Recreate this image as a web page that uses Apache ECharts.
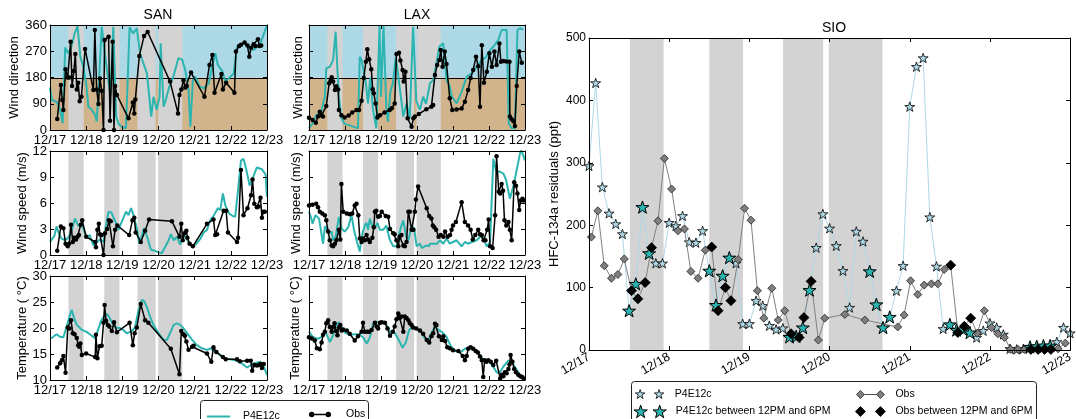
<!DOCTYPE html>
<html>
<head>
<meta charset="utf-8">
<script src="https://cdn.jsdelivr.net/npm/echarts@6/dist/echarts.min.js"></script>
<style>
html, body { margin: 0; padding: 0; background: #fff; }
#chart { width: 1076px; height: 419px; }
</style>
</head>
<body>
<div id="chart"></div>
<script>
// ---- axis labels and shaded periods (days after 12/17 00:00) ----
const dayLabels = ['12/17', '12/18', '12/19', '12/20', '12/21', '12/22', '12/23'];
const bands = [[0.51, 0.93], [1.50, 1.92], [2.42, 2.92], [2.99, 3.66]];
const dirZones = [[0, 180], [180, 360]];
const dirDivide = [[180]];

// ---- SAN / LAX wind direction (deg): [day, value] ----
const sanDirModel = [[0,146],[0.05,103],[0.1,100],[0.18,97],[0.27,75],[0.35,23],[0.42,283],[0.5,263],[0.58,280],[0.68,330],[0.76,357],[0.84,250],[0.92,217],[1.0,160],[1.06,80],[1.15,70],[1.25,51],[1.29,29],[1.36,180],[1.43,354],[1.5,280],[1.58,200],[1.67,120],[1.75,354],[1.83,46],[1.9,20],[1.98,11],[2.1,6],[2.2,352],[2.3,331],[2.4,349],[2.49,263],[2.58,229],[2.68,194],[2.8,46],[2.86,114],[2.95,69],[3.03,114],[3.06,297],[3.14,80],[3.2,103],[3.3,149],[3.41,183],[3.55,246],[3.65,242],[3.74,206],[3.83,137],[3.88,11],[3.95,170],[4.02,183],[4.14,149],[4.25,143],[4.39,160],[4.48,217],[4.57,263],[4.64,223],[4.76,203],[4.85,166],[4.99,183],[5.08,194],[5.17,286],[5.35,297],[5.49,286],[5.63,274],[5.82,297],[6.0,360]];
const sanDirObs = [[0.2,38],[0.3,154],[0.34,103],[0.37,69],[0.43,208],[0.49,180],[0.53,180],[0.57,303],[0.61,151],[0.66,202],[0.70,261],[0.74,139],[0.78,162],[0.82,99],[0.87,114],[0.97,278],[1.2,137],[1.24,343],[1.29,139],[1.34,89],[1.38,177],[1.43,135],[1.48,0],[1.51,309],[1.62,320],[1.66,32],[1.73,303],[1.77,0],[1.8,151],[1.85,120],[2.17,40],[2.29,94],[2.33,57],[2.36,105],[2.47,254],[2.6,322],[2.7,336],[3.32,166],[3.54,57],[3.58,120],[3.63,139],[3.69,171],[3.74,146],[3.78,151],[3.9,197],[4.27,114],[4.41,223],[4.49,257],[4.55,128],[4.74,192],[4.78,139],[4.87,162],[5.1,128],[5.14,269],[5.23,288],[5.28,292],[5.38,300],[5.46,290],[5.51,251],[5.56,282],[5.63,294],[5.68,288],[5.75,311],[5.79,288],[5.84,290]];
const laxDirModel = [[0,6],[0.1,23],[0.2,50],[0.34,63],[0.44,114],[0.48,211],[0.58,217],[0.67,240],[0.74,337],[0.78,230],[0.83,114],[0.9,40],[0.99,21],[1.15,15],[1.36,6],[1.41,251],[1.46,240],[1.58,160],[1.64,91],[1.7,180],[1.78,69],[1.87,6],[1.96,357],[2.0,114],[2.07,357],[2.15,69],[2.19,29],[2.26,130],[2.33,160],[2.41,251],[2.54,126],[2.62,46],[2.71,91],[2.8,40],[2.89,354],[2.98,100],[3.08,69],[3.17,114],[3.25,90],[3.36,160],[3.45,171],[3.54,229],[3.62,286],[3.73,297],[3.82,171],[3.9,154],[3.97,114],[4.1,91],[4.24,131],[4.38,183],[4.52,194],[4.66,217],[4.8,240],[4.92,250],[5.03,274],[5.15,290],[5.26,309],[5.35,343],[5.49,343],[5.55,23],[5.63,6],[5.72,6],[5.79,343],[5.86,349],[5.95,343]];
const laxDirObs = [[0,42],[0.1,34],[0.19,25],[0.25,46],[0.3,63],[0.35,50],[0.39,46],[0.48,82],[0.56,160],[0.6,170],[0.63,181],[0.67,166],[0.72,137],[0.76,150],[0.81,139],[0.83,69],[0.9,51],[0.99,43],[1.1,50],[1.2,60],[1.32,69],[1.39,69],[1.46,100],[1.52,178],[1.58,234],[1.62,277],[1.67,243],[1.73,208],[1.77,140],[1.8,126],[1.85,91],[1.9,43],[1.97,51],[2.1,60],[2.24,69],[2.3,75],[2.38,91],[2.43,261],[2.5,265],[2.54,238],[2.6,206],[2.63,166],[2.68,200],[2.74,40],[2.85,11],[2.9,40],[2.94,46],[3.05,55],[3.26,71],[3.4,80],[3.45,86],[3.5,189],[3.56,223],[3.62,240],[3.66,274],[3.71,217],[3.77,269],[3.82,226],[3.91,109],[3.98,69],[4.1,70],[4.24,74],[4.33,97],[4.42,137],[4.49,178],[4.56,206],[4.64,251],[4.7,219],[4.75,80],[4.8,291],[4.86,162],[4.94,200],[5.01,263],[5.08,217],[5.15,269],[5.21,223],[5.29,297],[5.33,234],[5.4,237],[5.48,235],[5.57,234],[5.58,46],[5.63,37],[5.68,30],[5.72,14],[5.77,151],[5.84,269],[5.91,231]];

// ---- SAN / LAX wind speed (m/s) ----
const sanSpdModel = [[0,1.5],[0.05,1.7],[0.12,2.2],[0.18,3.3],[0.25,2.4],[0.32,1.9],[0.42,1.7],[0.5,2.0],[0.58,2.5],[0.64,3.5],[0.69,4.2],[0.78,3.4],[0.9,3.3],[1.0,2.1],[1.1,2.3],[1.2,1.1],[1.3,1.5],[1.38,1.8],[1.48,1.5],[1.55,3.5],[1.62,5.0],[1.7,4.9],[1.75,4.4],[1.82,3.7],[1.89,2.9],[1.98,3.8],[2.1,5.0],[2.17,4.6],[2.24,5.4],[2.31,4.6],[2.4,3.1],[2.47,1.3],[2.54,2.2],[2.6,3.1],[2.7,1.9],[2.79,0.6],[2.9,0.5],[3.0,0.3],[3.09,0.2],[3.18,0.9],[3.28,1.7],[3.34,2.4],[3.42,1.7],[3.51,2.1],[3.6,1.2],[3.68,2.3],[3.76,2.0],[3.84,1.4],[3.97,1.0],[4.07,1.4],[4.16,1.9],[4.25,2.6],[4.34,2.9],[4.43,4.0],[4.52,4.5],[4.64,5.4],[4.71,5.2],[4.78,7.1],[4.85,5.7],[4.95,4.8],[5.05,4.5],[5.12,4.4],[5.2,7.5],[5.28,10.9],[5.35,11.1],[5.43,9.8],[5.52,8.0],[5.6,8.8],[5.72,10.1],[5.86,9.9],[5.96,9.3],[6.0,6.7]];
const sanSpdObs = [[0.2,0.5],[0.3,3.3],[0.37,3.1],[0.43,1.3],[0.49,1.0],[0.53,1.3],[0.58,3.5],[0.63,1.5],[0.67,2.0],[0.72,1.8],[0.76,2.1],[0.8,2.3],[0.85,3.5],[0.89,4.0],[1.0,2.1],[1.25,1.5],[1.27,0.9],[1.31,2.9],[1.35,3.6],[1.38,2.4],[1.43,2.3],[1.48,0],[1.52,2.5],[1.58,3.0],[1.63,4.0],[1.68,3.9],[1.74,1.0],[1.8,2.9],[1.86,3.4],[2.19,2.3],[2.28,4.0],[2.33,4.3],[2.37,2.6],[2.51,1.5],[2.63,2.8],[2.74,4.1],[3.37,3.9],[3.58,2.1],[3.63,3.6],[3.67,1.7],[3.72,2.5],[3.77,2.8],[3.8,2.0],[3.86,1.3],[3.95,1.0],[4.34,3.6],[4.52,4.1],[4.57,2.3],[4.62,2.4],[4.8,5.1],[4.87,5.1],[4.92,2.6],[5.17,1.5],[5.2,2.0],[5.28,9.8],[5.35,4.6],[5.46,5.4],[5.56,6.9],[5.6,8.7],[5.65,5.9],[5.72,5.5],[5.77,5.6],[5.82,6.6],[5.86,4.3],[5.9,5.0],[5.94,5.0]];
const laxSpdModel = [[0,5.0],[0.05,4.4],[0.1,3.6],[0.18,4.6],[0.28,4.2],[0.33,4.2],[0.39,1.3],[0.44,3.3],[0.5,2.9],[0.56,2.5],[0.63,2.7],[0.67,1.7],[0.74,2.1],[0.83,4.4],[0.9,3.1],[0.99,2.7],[1.09,3.2],[1.18,4.6],[1.25,2.9],[1.32,1.7],[1.41,0.4],[1.46,2.1],[1.55,3.4],[1.6,3.7],[1.64,2.9],[1.69,4.2],[1.76,3.3],[1.83,3.1],[1.9,3.7],[1.97,2.9],[2.06,2.9],[2.15,3.4],[2.24,1.8],[2.34,1.0],[2.43,1.0],[2.5,2.3],[2.56,3.3],[2.62,4.0],[2.7,2.1],[2.76,1.7],[2.85,3.3],[2.92,3.1],[2.99,1.0],[3.08,1.3],[3.14,0.8],[3.25,1.1],[3.33,1.0],[3.36,1.3],[3.45,1.3],[3.55,1.3],[3.64,1.7],[3.73,1.3],[3.82,1.9],[3.91,1.3],[4.0,1.5],[4.1,1.7],[4.24,1.0],[4.33,1.5],[4.42,1.3],[4.52,1.5],[4.66,1.7],[4.8,2.3],[4.94,1.0],[5.03,1.5],[5.12,11.1],[5.2,9.7],[5.31,9.6],[5.4,9.4],[5.48,8.6],[5.58,6.5],[5.67,7.8],[5.76,9.6],[5.86,11.7],[5.9,12.1],[6.0,10.9]];
const laxSpdObs = [[0,5.7],[0.1,5.8],[0.2,5.9],[0.25,5.5],[0.3,5.0],[0.37,4.8],[0.44,4.6],[0.48,4.0],[0.53,2.7],[0.58,1.7],[0.63,1.1],[0.67,1.0],[0.72,1.3],[0.76,1.7],[0.83,2.9],[0.87,1.8],[0.9,8.2],[0.95,5.0],[1.05,4.8],[1.13,4.7],[1.2,4.8],[1.27,5.7],[1.32,5.9],[1.37,4.6],[1.41,1.9],[1.46,1.5],[1.5,1.9],[1.55,1.7],[1.6,2.3],[1.64,1.8],[1.69,1.5],[1.76,2.0],[1.8,3.2],[1.83,5.0],[1.87,5.1],[1.92,4.4],[1.97,4.5],[2.02,5.0],[2.13,4.5],[2.2,4.4],[2.25,3.0],[2.34,2.5],[2.38,2.4],[2.43,1.7],[2.48,1.0],[2.52,2.1],[2.57,2.3],[2.62,1.1],[2.66,1.0],[2.71,1.5],[2.76,5.0],[2.8,5.0],[2.85,2.9],[2.9,2.9],[2.94,5.0],[2.97,6.4],[3.03,7.9],[3.27,5.4],[3.34,4.5],[3.4,4.2],[3.44,3.4],[3.48,3.2],[3.53,2.9],[3.6,2.1],[3.66,2.3],[3.73,2.1],[3.78,2.7],[3.85,2.1],[3.92,2.3],[3.96,2.9],[4.0,3.4],[4.08,3.8],[4.24,6.1],[4.33,3.8],[4.42,3.4],[4.49,2.9],[4.55,1.8],[4.62,2.3],[4.7,2.9],[4.75,2.4],[4.8,2.3],[4.85,1.7],[4.9,1.7],[4.95,2.9],[4.99,4.1],[5.03,1.0],[5.1,0.8],[5.17,4.6],[5.21,11.4],[5.27,7.3],[5.31,7.1],[5.35,8.2],[5.39,7.4],[5.43,4.0],[5.48,3.4],[5.54,3.8],[5.58,2.9],[5.63,1.7],[5.7,8.4],[5.75,8.0],[5.79,7.1],[5.84,5.2],[5.88,6.3],[5.93,6.5],[5.96,6.3]];

// ---- SAN / LAX temperature (deg C) ----
const sanTmpModel = [[0,17.9],[0.09,18.3],[0.18,18.8],[0.28,18.3],[0.37,18.2],[0.46,20.3],[0.55,22.5],[0.6,23.5],[0.66,22.0],[0.74,20.6],[0.87,19.7],[1.0,19.3],[1.12,18.7],[1.25,18.0],[1.32,19.5],[1.42,21.5],[1.55,22.8],[1.62,22.3],[1.72,21.0],[1.8,20.1],[1.92,20.0],[2.03,19.6],[2.12,19.0],[2.26,19.4],[2.35,20.1],[2.45,23.5],[2.54,25.4],[2.6,25.2],[2.68,24.0],[2.77,22.1],[2.86,20.6],[3.0,19.0],[3.14,17.7],[3.23,17.7],[3.32,19.0],[3.42,20.6],[3.51,20.9],[3.6,20.6],[3.67,20.1],[3.78,19.1],[3.92,17.8],[4.06,16.7],[4.2,16.1],[4.34,15.8],[4.43,16.1],[4.57,15.4],[4.7,14.8],[4.8,14.2],[4.99,14.0],[5.17,13.7],[5.3,13.2],[5.45,12.4],[5.63,13.2],[5.82,13.5],[5.91,12.6],[6.0,11.0]];
const sanTmpObs = [[0.2,12.4],[0.28,13.2],[0.33,13.8],[0.37,14.6],[0.43,11.4],[0.49,20.1],[0.54,19.9],[0.58,21.5],[0.63,19.0],[0.68,18.8],[0.74,18.1],[0.78,16.7],[0.81,16.4],[0.84,17.0],[0.88,14.8],[1.0,15.1],[1.25,14.4],[1.27,18.7],[1.31,14.2],[1.37,16.5],[1.43,16.6],[1.48,21.0],[1.51,24.4],[1.55,21.4],[1.6,20.6],[1.64,20.3],[1.71,19.4],[1.77,21.1],[1.85,19.2],[2.2,21.0],[2.29,16.7],[2.34,19.0],[2.4,20.1],[2.51,24.6],[2.63,21.5],[2.72,21.0],[3.34,16.0],[3.58,11.1],[3.63,19.4],[3.69,18.8],[3.73,18.5],[3.77,17.4],[3.83,15.8],[3.93,16.4],[3.97,16.6],[4.34,15.1],[4.46,13.5],[4.52,16.3],[4.6,15.4],[4.78,14.4],[4.86,14.0],[5.17,14.0],[5.25,13.6],[5.45,13.7],[5.55,13.7],[5.59,11.8],[5.65,12.9],[5.72,12.8],[5.77,12.9],[5.82,13.1],[5.86,12.3],[5.91,13.1]];
const laxTmpModel = [[0,19.3],[0.1,18.3],[0.25,17.9],[0.35,18.3],[0.44,19.6],[0.5,18.6],[0.58,17.3],[0.67,18.6],[0.75,20.5],[0.83,21.1],[0.9,20.3],[1.0,19.1],[1.13,18.7],[1.27,18.8],[1.41,18.8],[1.5,18.2],[1.61,17.0],[1.7,18.4],[1.78,20.8],[1.87,21.2],[1.97,21.0],[2.06,21.2],[2.13,20.8],[2.22,19.7],[2.29,19.0],[2.38,19.1],[2.5,17.6],[2.6,16.2],[2.69,17.2],[2.78,19.6],[2.88,20.3],[2.99,20.0],[3.13,19.0],[3.22,18.0],[3.31,17.6],[3.4,19.0],[3.5,20.3],[3.6,19.6],[3.7,19.2],[3.82,18.3],[3.94,16.5],[4.06,15.6],[4.2,15.3],[4.33,16.0],[4.47,16.3],[4.6,15.6],[4.75,14.8],[4.86,13.8],[4.98,13.8],[5.12,12.5],[5.22,11.4],[5.31,11.6],[5.4,12.6],[5.54,13.7],[5.63,13.5],[5.72,12.5],[5.82,11.4],[5.91,10.6],[6.0,10.0]];
const laxTmpObs = [[0,18.2],[0.08,18.0],[0.16,17.6],[0.22,16.1],[0.3,15.9],[0.35,17.2],[0.39,18.7],[0.44,19.3],[0.48,20.9],[0.53,21.5],[0.58,20.2],[0.63,19.3],[0.67,20.2],[0.71,20.9],[0.75,19.4],[0.79,18.6],[0.83,20.1],[0.87,20.6],[0.91,19.5],[0.95,19.7],[1.05,19.5],[1.13,18.9],[1.27,17.6],[1.36,18.4],[1.46,19.3],[1.5,21.0],[1.55,19.3],[1.62,19.3],[1.67,19.3],[1.74,19.6],[1.83,21.0],[1.88,20.3],[1.92,19.9],[1.97,21.0],[2.02,21.1],[2.11,21.0],[2.18,19.9],[2.25,18.5],[2.33,19.3],[2.38,20.3],[2.43,21.7],[2.48,22.8],[2.52,21.9],[2.57,22.2],[2.62,19.3],[2.66,22.2],[2.71,21.9],[2.76,21.5],[2.8,20.9],[2.85,20.6],[2.89,20.1],[2.98,19.9],[3.08,19.5],[3.17,18.9],[3.27,17.7],[3.34,17.2],[3.4,18.4],[3.45,19.0],[3.5,20.8],[3.54,20.6],[3.61,18.4],[3.69,17.7],[3.73,18.4],[3.78,17.5],[3.84,16.3],[3.91,16.1],[4.0,15.7],[4.15,15.6],[4.27,14.6],[4.33,13.8],[4.38,14.6],[4.42,16.0],[4.49,16.3],[4.56,16.0],[4.63,15.6],[4.69,15.3],[4.75,14.5],[4.8,13.8],[4.84,10.6],[4.88,13.8],[4.93,13.5],[4.98,13.8],[5.05,13.5],[5.12,12.9],[5.2,13.7],[5.31,10.3],[5.36,11.0],[5.4,10.7],[5.44,11.5],[5.49,11.3],[5.54,12.1],[5.57,13.0],[5.6,14.8],[5.65,13.5],[5.7,12.1],[5.75,11.5],[5.81,11.0],[5.87,10.7],[5.92,10.6],[5.96,10.3]];

// ---- SIO HFC-134a residuals (ppt) ----
const sioModelStepHours = 2;
const sioModel = [
  295, 428, 261, 219, 202, 186, 63, 106, 229, 155, 139, 139,
  204, 199, 215, 173, 172, 191, 127, 72, 119, 148, 139, 42,
  42, 79, 71, 39, 33, 35, 21, 22, 36, 96, 164, 218,
  195, 167, 127, 68, 190, 174, 126, 73, 36, 53, 95, 135,
  390, 454, 468, 213, 134, 34, 41, 32, 33, 28, 20, 31,
  43, 36, 25, 2, 1, 2, 5, 6, 7, 7, 13, 36,
  27
];
const sioObsTime = [
  0.03, 0.11, 0.19, 0.28, 0.36, 0.44, 0.53, 0.61, 0.70, 0.78, 0.86, 0.94,
  1.03, 1.11, 1.19, 1.27, 1.36, 1.45, 1.53, 1.61, 1.70, 1.77, 1.86, 1.94,
  2.02, 2.10, 2.18, 2.28, 2.36, 2.44, 2.52, 2.62, 2.68, 2.77, 2.86, 2.94,
  3.19, 3.44, 3.85, 3.93,
  4.01, 4.10, 4.18, 4.27, 4.35, 4.43, 4.51, 4.60, 4.68, 4.76, 4.84, 4.93,
  5.02, 5.10, 5.18, 5.26, 5.35, 5.43, 5.51, 5.60, 5.68, 5.76, 5.85, 5.94
];
const sioObs = [
  181, 223, 135, 115, 121, 146, 95, 82, 108, 164, 207, 307,
  258, 191, 194, 126, 115, 160, 165, 63, 100, 79, 145, 227,
  208, 95, 51, 99, 48, 63, 26, 20, 52, 110, 16, 51,
  57, 48, 37, 56,
  111, 89, 104, 106, 106, 129, 136, 28, 38, 51, 27, 63,
  36, 26, 20, 1, 1, 1, 1, 1, 1, 1, 2, 11
];

// ---- styling ----
const FONT = "'Liberation Sans', Arial, Helvetica, sans-serif";
const TEAL = '#2cb5b0';
const LIGHTBLUE = '#add8e6';
const TAN = '#d2b48c';
const BAND = '#d3d3d3';
const ZONE_COLORS = [TAN, LIGHTBLUE];

// five-point star outline used as a marker
function starPath(cx, cy, R, r) {
  let d = '';
  for (let k = 0; k < 10; k++) {
    const a = (-90 + k * 36) * Math.PI / 180;
    const rad = k % 2 ? r : R;
    d += (k ? 'L' : 'M') + (cx + rad * Math.cos(a)).toFixed(2) + ',' + (cy + rad * Math.sin(a)).toFixed(2);
  }
  return d + 'Z';
}
const STAR = 'path://' + starPath(10, 10, 10, 3.9);

// afternoon window: 12PM to 6PM local
const isAfternoon = t => { const h = (t - Math.floor(t)) * 24; return h >= 11.99 && h < 19; };

const modelPts = sioModel.map((v, i) => [i * sioModelStepHours / 24, v]);
const obsPts = sioObsTime.map((t, i) => [t, sioObs[i]]);
const modelNoon = modelPts.filter(p => isAfternoon(p[0]));
const obsNoon = obsPts.filter(p => isAfternoon(p[0]));

const panels = [
  { left: 50, top: 25, width: 217, height: 105, y: [0, 360, 90], name: 'Wind direction', labels: true, gap: 24 },
  { left: 309, top: 25, width: 216, height: 105, y: [0, 360, 90], name: 'Wind direction', labels: false, gap: 4 },
  { left: 50, top: 151, width: 217, height: 104, y: [0, 12, 3], name: 'Wind speed (m/s)', labels: true, gap: 19 },
  { left: 309, top: 151, width: 216, height: 104, y: [0, 12, 3], name: 'Wind speed (m/s)', labels: false, gap: 6 },
  { left: 50, top: 276, width: 217, height: 104, y: [10, 30, 5], name: 'Temperature ( °C)', labels: true, gap: 20 },
  { left: 309, top: 276, width: 216, height: 104, y: [10, 30, 5], name: 'Temperature ( °C)', labels: false, gap: 7 },
  { left: 589, top: 38, width: 487, height: 312, y: [0, 500, 100], name: 'HFC-134a residuals (ppt)', labels: true, gap: 28, sio: true }
];

const smallSets = [
  { model: sanDirModel, obs: sanDirObs, dir: true },
  { model: laxDirModel, obs: laxDirObs, dir: true },
  { model: sanSpdModel, obs: sanSpdObs },
  { model: laxSpdModel, obs: laxSpdObs },
  { model: sanTmpModel, obs: sanTmpObs },
  { model: laxTmpModel, obs: laxTmpObs }
];

const grid = [], xAxis = [], yAxis = [], series = [];
const frame = { show: true, onZero: false, lineStyle: { color: '#000', width: 1 } };
const tick = { show: true, inside: true, length: 4, lineStyle: { color: '#000', width: 1 } };

panels.forEach((p, i) => {
  grid.push({ left: p.left, top: p.top, width: p.width, height: p.height });
  const xb = { type: 'value', gridIndex: i, min: 0, max: 6, interval: 1, z: 10,
    splitLine: { show: false }, axisLine: frame, axisTick: tick };
  xAxis.push(Object.assign({}, xb, {
    position: 'bottom',
    axisLabel: p.sio
      ? { show: true, rotate: 30, margin: 6, fontSize: 12.5, color: '#000', fontFamily: FONT,
          formatter: v => dayLabels[Math.round(v)] }
      : { show: true, margin: 4, fontSize: 13, color: '#000', fontFamily: FONT,
          formatter: v => dayLabels[Math.round(v)] }
  }));
  xAxis.push(Object.assign({}, xb, { position: 'top', axisLabel: { show: false } }));
  const yb = { type: 'value', gridIndex: i, min: p.y[0], max: p.y[1], interval: p.y[2], z: 10,
    splitLine: { show: false }, axisLine: frame, axisTick: tick };
  yAxis.push(Object.assign({}, yb, {
    position: 'left',
    name: p.name, nameLocation: 'middle', nameRotate: 90, nameGap: p.gap,
    nameTextStyle: { fontSize: 13, color: '#000', fontFamily: FONT },
    axisLabel: { show: p.labels, margin: 3, fontSize: p.sio ? 12 : 13, color: '#000', fontFamily: FONT }
  }));
  yAxis.push(Object.assign({}, yb, { position: 'right', axisLabel: { show: false } }));
});

// shaded periods
function bandItem(params, api) {
  const cs = params.coordSys;
  const x0 = api.coord([api.value(0), 0])[0];
  const x1 = api.coord([api.value(1), 0])[0];
  return { type: 'rect', shape: { x: x0, y: cs.y, width: x1 - x0, height: cs.height }, style: { fill: BAND } };
}
// two-tone wind-direction background
function zoneItem(params, api) {
  const cs = params.coordSys;
  const ya = api.coord([0, api.value(0)])[1];
  const yb = api.coord([0, api.value(1)])[1];
  return { type: 'rect', shape: { x: cs.x, y: Math.min(ya, yb), width: cs.width, height: Math.abs(ya - yb) },
    style: { fill: ZONE_COLORS[params.dataIndex] } };
}
function divideItem(params, api) {
  const cs = params.coordSys;
  const y = Math.round(api.coord([0, api.value(0)])[1]) + 0.5;
  return { type: 'line', shape: { x1: cs.x, y1: y, x2: cs.x + cs.width, y2: y }, style: { stroke: '#000', lineWidth: 1 } };
}

smallSets.forEach((s, i) => {
  const ax = { xAxisIndex: 2 * i, yAxisIndex: 2 * i };
  if (s.dir) {
    series.push(Object.assign({ type: 'custom', silent: true, z: 1, renderItem: zoneItem, data: dirZones }, ax));
  }
  series.push(Object.assign({ type: 'custom', silent: true, z: 2, renderItem: bandItem, data: bands }, ax));
  if (s.dir) {
    series.push(Object.assign({ type: 'custom', silent: true, z: 3, renderItem: divideItem, data: dirDivide }, ax));
  }
  series.push(Object.assign({
    name: 'P4E12c', type: 'line', z: 4, data: s.model, showSymbol: false, symbol: 'none',
    lineStyle: { color: TEAL, width: 2 }, itemStyle: { color: TEAL }
  }, ax));
  series.push(Object.assign({
    name: 'Obs', type: 'line', z: 5, data: s.obs, symbol: 'circle', symbolSize: 4.5, showAllSymbol: true,
    lineStyle: { color: '#000', width: 1.5 }, itemStyle: { color: '#000' }
  }, ax));
});

const sioAx = { xAxisIndex: 12, yAxisIndex: 12 };
series.push(Object.assign({ type: 'custom', silent: true, z: 1, renderItem: bandItem, data: bands }, sioAx));
series.push(Object.assign({
  name: 'P4E12c', type: 'line', z: 3, data: modelPts, symbol: STAR, symbolSize: 10, symbolKeepAspect: true,
  showAllSymbol: true, lineStyle: { color: LIGHTBLUE, width: 1 },
  itemStyle: { color: LIGHTBLUE, borderColor: '#000', borderWidth: 0.8 }
}, sioAx));
series.push(Object.assign({
  name: 'Obs', type: 'line', z: 4, data: obsPts, symbol: 'diamond', symbolSize: 8,
  showAllSymbol: true, lineStyle: { color: '#808080', width: 1 },
  itemStyle: { color: '#7f7f7f', borderColor: '#222', borderWidth: 0.8 }
}, sioAx));
series.push(Object.assign({
  name: 'P4E12c between 12PM and 6PM', type: 'scatter', z: 5, data: modelNoon, symbol: STAR,
  symbolSize: 13, symbolKeepAspect: true,
  itemStyle: { color: TEAL, borderColor: '#000', borderWidth: 1, opacity: 1 }
}, sioAx));
series.push(Object.assign({
  name: 'Obs between 12PM and 6PM', type: 'scatter', z: 6, data: obsNoon, symbol: 'diamond', symbolSize: 10,
  itemStyle: { color: '#000', borderColor: '#000', borderWidth: 0.8, opacity: 1 }
}, sioAx));

// legend glyphs
const ICON_OBS_DOTS = 'path://M0.4,3A2.6,2.6 0 1,0 5.6,3A2.6,2.6 0 1,0 0.4,3Z M5.6,2.2L16.4,2.2L16.4,3.8L5.6,3.8Z M16.4,3A2.6,2.6 0 1,0 21.6,3A2.6,2.6 0 1,0 16.4,3Z';
const ICON_STARS_SMALL = 'path://' + starPath(4.76, 5, 5, 1.95) + starPath(23.76, 5, 5, 1.95);
const ICON_STARS_BIG = 'path://' + starPath(6.66, 7, 7, 2.7) + starPath(25.66, 7, 7, 2.7);
const ICON_DIAMONDS = 'path://M0,4L4,0L8,4L4,8Z M8,4L20,4 M20,4L24,0L28,4L24,8Z';
const ICON_DIAMONDS_BIG = 'path://M0,5L5,0L10,5L5,10Z M20,5L25,0L30,5L25,10Z';

function legendAt(left, top, w, h, name, icon, style, pad) {
  return {
    left: left, top: top, padding: 0, itemWidth: w, itemHeight: h, selectedMode: false, z: 6,
    symbolKeepAspect: true,
    data: [{ name: name, icon: icon, itemStyle: style }],
    textStyle: { fontSize: 10.5, color: '#000', fontFamily: FONT, padding: [0, 0, 0, pad] }
  };
}

const legend = [
  legendAt(207, 411, 23, 2, 'P4E12c', 'rect', { color: TEAL, borderWidth: 0 }, 8),
  legendAt(309, 409, 22, 6, 'Obs', ICON_OBS_DOTS, { color: '#000', borderWidth: 0 }, 10),
  legendAt(635, 388.5, 28.5, 9, 'P4E12c', ICON_STARS_SMALL, { color: LIGHTBLUE, borderColor: '#000', borderWidth: 0.8 }, 6),
  legendAt(633.5, 404.6, 32.3, 12.7, 'P4E12c between 12PM and 6PM', ICON_STARS_BIG, { color: TEAL, borderColor: '#000', borderWidth: 1 }, 4.5),
  legendAt(856, 389, 28, 8, 'Obs', ICON_DIAMONDS, { color: '#7f7f7f', borderColor: '#222', borderWidth: 0.8 }, 6),
  legendAt(855, 406, 30, 10, 'Obs between 12PM and 6PM', ICON_DIAMONDS_BIG, { color: '#000', borderColor: '#000', borderWidth: 0.8 }, 5)
];

const titleStyle = { fontSize: 14, fontWeight: 'normal', color: '#000', fontFamily: FONT };
const option = {
  animation: false,
  backgroundColor: '#fff',
  textStyle: { fontFamily: FONT },
  title: [
    { text: 'SAN', left: 158, top: 8, textAlign: 'center', padding: 0, textStyle: titleStyle },
    { text: 'LAX', left: 417, top: 8, textAlign: 'center', padding: 0, textStyle: titleStyle },
    { text: 'SIO', left: 834, top: 21, textAlign: 'center', padding: 0, textStyle: titleStyle }
  ],
  graphic: [
    { type: 'rect', z: 0, silent: true, shape: { x: 200.5, y: 400.5, width: 168, height: 30, r: 3 },
      style: { fill: '#fff', stroke: '#222', lineWidth: 1 } },
    { type: 'rect', z: 0, silent: true, shape: { x: 631.5, y: 381.5, width: 405, height: 50, r: 3 },
      style: { fill: '#fff', stroke: '#222', lineWidth: 1 } }
  ],
  legend: legend,
  grid: grid,
  xAxis: xAxis,
  yAxis: yAxis,
  series: series
};

const chart = echarts.init(document.getElementById('chart'), null, { renderer: 'canvas' });
chart.setOption(option);
</script>
</body>
</html>
